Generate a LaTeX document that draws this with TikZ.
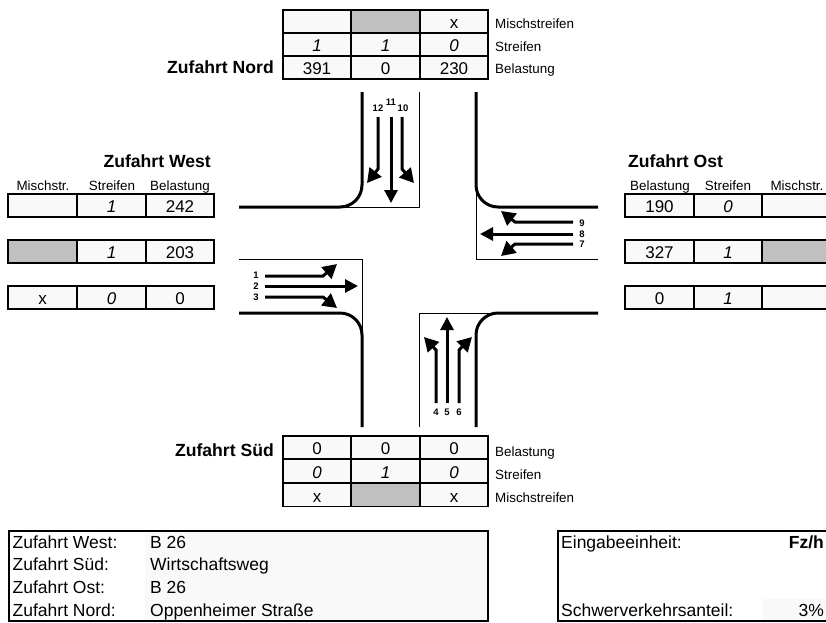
\documentclass[tikz,border=0pt]{standalone}
\usepackage{fontspec}
\setmainfont{Liberation Sans}
\usetikzlibrary{arrows.meta}
\definecolor{cellbg}{HTML}{F9F9F9}
\definecolor{cellgr}{HTML}{C0C0C0}

\begin{document}
\begin{tikzpicture}[
  x=1pt, y=-1pt,
  cell/.style={draw, line width=1.8pt, fill=cellbg, minimum width=68.5pt, minimum height=23pt,
    inner sep=0pt, text height=14pt, text depth=0pt, font=\fontsize{17}{17}\selectfont},
  wcell/.style={cell, font=\fontsize{17}{17}\selectfont\itshape},
  gcell/.style={cell, fill=cellgr},
  tag/.style={inner sep=0pt, anchor=base, font=\fontsize{13.4}{13.4}\selectfont},
  title/.style={inner sep=0pt, font=\fontsize{17.6}{17.6}\selectfont\bfseries},
  num/.style={inner sep=0pt, font=\fontsize{9.5}{9.5}\selectfont\bfseries},
  info/.style={inner sep=0pt, anchor=base west, font=\fontsize{17.5}{17.5}\selectfont},
  kerb/.style={line width=3pt, rounded corners=22pt},
  edge/.style={line width=1pt},
  arr/.style={-{Triangle[length=13pt,width=13pt]}, line width=3pt},
  turn/.style={-{Triangle[length=14pt,width=15pt]}, line width=3pt},
]
\clip (0,0) rectangle (826,622);
\useasboundingbox (0,0) rectangle (826,622);

% ── Approach North: table ──
\node[cell] (n11) at (317,21.5) {};
\node[gcell] (n12) at (385.5,21.5) {};
\node[cell] (n13) at (454,21.5) {x};
\node[wcell] (n21) at (317,44.5) {1};
\node[wcell] (n22) at (385.5,44.5) {1};
\node[wcell] (n23) at (454,44.5) {0};
\node[cell] (n31) at (317,67.5) {391};
\node[cell] (n32) at (385.5,67.5) {0};
\node[cell] (n33) at (454,67.5) {230};
\node[tag, anchor=base west] (nt1) at (495,28) {Mischstreifen};
\node[tag, anchor=base west] (nt2) at (495,51) {Streifen};
\node[tag, anchor=base west] (nt3) at (495,73.5) {Belastung};
\node[title, anchor=base east] (nname) at (274,73) {Zufahrt Nord};

% ── Approach West: table ──
\node[tag] (wt1) at (43,190) {Mischstr.};
\node[tag] (wt2) at (112,190) {Streifen};
\node[tag] (wt3) at (180,190) {Belastung};
\node[title, anchor=base east] (wname) at (211,167) {Zufahrt West};
\node[cell] (w11) at (42.5,205.5) {};
\node[wcell] (w12) at (111.5,205.5) {1};
\node[cell] (w13) at (180,205.5) {242};
\node[gcell] (w21) at (42.5,251.5) {};
\node[wcell] (w22) at (111.5,251.5) {1};
\node[cell] (w23) at (180,251.5) {203};
\node[cell] (w31) at (42.5,297.5) {x};
\node[wcell] (w32) at (111.5,297.5) {0};
\node[cell] (w33) at (180,297.5) {0};

% ── Approach East: table ──
\node[tag] (ot1) at (660,190) {Belastung};
\node[tag] (ot2) at (728,190) {Streifen};
\node[tag] (ot3) at (797,190) {Mischstr.};
\node[title, anchor=base west] (oname) at (628,167) {Zufahrt Ost};
\node[cell] (o11) at (659.5,205.5) {190};
\node[wcell] (o12) at (728,205.5) {0};
\node[cell] (o13) at (796.5,205.5) {};
\node[cell] (o21) at (659.5,251.5) {327};
\node[wcell] (o22) at (728,251.5) {1};
\node[gcell] (o23) at (796.5,251.5) {};
\node[cell] (o31) at (659.5,297.5) {0};
\node[wcell] (o32) at (728,297.5) {1};
\node[cell] (o33) at (796.5,297.5) {};

% ── Approach South: table ──
\node[cell] (s11) at (317,447.5) {0};
\node[cell] (s12) at (385.5,447.5) {0};
\node[cell] (s13) at (454,447.5) {0};
\node[wcell] (s21) at (317,471) {0};
\node[wcell] (s22) at (385.5,471) {1};
\node[wcell] (s23) at (454,471) {0};
\node[cell] (s31) at (317,495) {x};
\node[gcell] (s32) at (385.5,495) {};
\node[cell] (s33) at (454,495) {x};
\node[tag, anchor=base west] (st1) at (495,456) {Belastung};
\node[tag, anchor=base west] (st2) at (495,479) {Streifen};
\node[tag, anchor=base west] (st3) at (495,502) {Mischstreifen};
\node[title, anchor=base east] (sname) at (274,456) {Zufahrt Süd};

% ── Junction: thin edges ──
\draw[edge] (340,207) -- (419,207) -- (419,92);
\draw[edge] (476,180) -- (476,259) -- (598,259);
\draw[edge] (239,259) -- (362,259) -- (362,335);
\draw[edge] (419,427) -- (419,313) -- (497,313);

% ── Junction: kerbs ──
\draw[kerb] (239,207) -- (362,207) -- (362,92);
\draw[kerb] (476,92) -- (476,207) -- (598,207);
\draw[kerb] (239,313) -- (362,313) -- (362,427);
\draw[kerb] (476,427) -- (476,313) -- (598,313);

% ── Arrows North ──
\draw[turn] (378,117) -- (378,169) -- (367,183);
\draw[arr] (391,117) -- (391,203);
\draw[turn] (402,117) -- (402,169) -- (414,183);
\node[num] (m12) at (378,108) {12};
\node[num] (m11) at (391,102) {11};
\node[num] (m10) at (403,108) {10};

% ── Arrows West ──
\draw[turn] (265,276) -- (323,276) -- (337,264);
\draw[arr] (265,286) -- (358,286);
\draw[turn] (265,297) -- (323,297) -- (337,308);
\node[num] (m1) at (256,275) {1};
\node[num] (m2) at (256,286) {2};
\node[num] (m3) at (256,297) {3};

% ── Arrows East ──
\draw[turn] (573,222) -- (515,222) -- (501,211);
\draw[arr] (573,234) -- (480,234);
\draw[turn] (573,244) -- (515,244) -- (501,256);
\node[num] (m9) at (582,223) {9};
\node[num] (m8) at (582,234) {8};
\node[num] (m7) at (582,244) {7};

% ── Arrows South ──
\draw[turn] (436,403) -- (436,350) -- (424,337);
\draw[arr] (447,403) -- (447,317);
\draw[turn] (459,403) -- (459,350) -- (472,337);
\node[num] (m4) at (436,412) {4};
\node[num] (m5) at (447,412) {5};
\node[num] (m6) at (459,412) {6};

% ── Info boxes ──
\fill[cellbg] (145,531) rectangle (487,620);
\fill[cellbg] (762,599) rectangle (826,620);
\node[draw, line width=2pt, minimum width=479pt, minimum height=90pt, inner sep=0pt] (names) at (248.5,575.5) {};
\node[draw, line width=2pt, minimum width=280pt, minimum height=90pt, inner sep=0pt, anchor=west] (input) at (557,575.5) {};
\node[info] (l1) at (12.5,548) {Zufahrt West:};
\node[info] (l2) at (12.5,570) {Zufahrt Süd:};
\node[info] (l3) at (12.5,593) {Zufahrt Ost:};
\node[info] (l4) at (12.5,616) {Zufahrt Nord:};
\node[info] (v1) at (150,548) {B 26};
\node[info] (v2) at (150,570) {Wirtschaftsweg};
\node[info] (v3) at (150,593) {B 26};
\node[info] (v4) at (150,616) {Oppenheimer Straße};
\node[info] (e1) at (561,548) {Eingabeeinheit:};
\node[info, anchor=base east, font=\fontsize{17.5}{17.5}\selectfont\bfseries] (e2) at (824,548) {Fz/h};
\node[info] (e3) at (561,616) {Schwerverkehrsanteil:};
\node[info, anchor=base east] (e4) at (824,616) {3\%};
\end{tikzpicture}
\end{document}
